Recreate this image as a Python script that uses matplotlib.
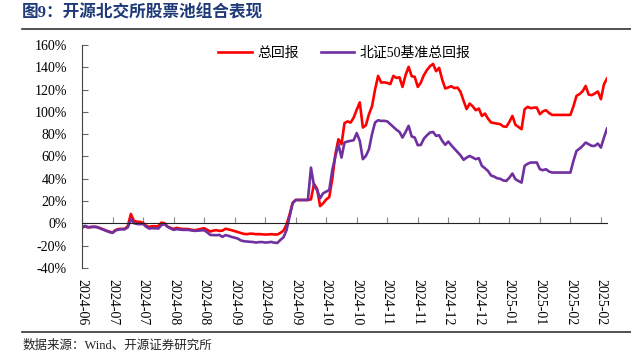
import matplotlib
matplotlib.use('Agg')
import matplotlib.pyplot as plt
from matplotlib.lines import Line2D

# daily returns (%) of the portfolio and the benchmark, one value per trading day
total_ret = [
    -3.4, -2.8, -3.6, -3.2, -3.0, -3.3, -4.4, -5.4, -6.5, -7.5,
    -8.2, -6.0, -5.0, -5.0, -4.9, -2.5, 8.5, 2.2, 1.5, 1.3,
    0.5, -2.0, -3.2, -2.5, -2.6, -2.5, 0.7, 0.2, -2.8, -4.0,
    -5.0, -4.0, -4.6, -5.0, -5.0, -5.2, -5.8, -6.1, -5.5, -4.8,
    -4.3, -5.8, -7.3, -6.5, -6.1, -6.7, -6.5, -4.8, -5.4, -6.1,
    -6.9, -7.6, -8.6, -9.4, -9.7, -9.2, -9.3, -9.7, -9.6, -9.8,
    -10.0, -9.9, -9.7, -9.9, -10.0, -8.5, -6.5, -1.0, 8.0, 18.5,
    21.0, 21.0, 21.0, 21.0, 21.0, 21.5, 35.5, 31.0, 15.5, 18.0,
    21.5, 23.5, 40.0, 62.0, 75.5, 71.0, 90.0, 91.5, 90.4, 94.9,
    102.0, 108.5, 86.0, 88.0, 97.9, 105.0, 120.0, 132.3, 126.3, 126.5,
    126.0, 124.9, 132.3, 130.5, 131.0, 122.4, 133.0, 140.4, 132.0, 131.4,
    122.4, 126.3, 133.0, 137.5, 141.0, 143.0, 136.5, 139.5, 129.0, 121.0,
    122.0, 123.0, 121.3, 121.8, 118.0, 110.0, 102.5, 107.5, 105.0, 101.5,
    103.0, 96.4, 98.5, 94.0, 90.5, 90.0, 89.5, 89.0, 87.0, 86.6,
    91.0, 96.4, 88.4, 86.5, 84.5, 102.4, 104.5, 103.3, 103.8, 103.9,
    97.9, 100.5, 101.5, 99.0, 97.3, 97.3, 97.3, 97.3, 97.3, 97.3,
    97.3, 105.0, 114.4, 116.0, 118.5, 123.3, 115.5, 115.0, 116.5, 118.3,
    111.4, 124.8, 130.0,
]
bench_ret = [
    -3.8, -2.2, -3.4, -3.3, -3.1, -3.5, -4.6, -5.6, -6.7, -7.8,
    -8.5, -6.3, -5.5, -5.2, -5.3, -3.5, 3.8, 0.2, -0.5, -0.7,
    -0.5, -3.0, -4.6, -4.3, -4.4, -4.6, -1.5, -0.7, -3.0, -4.5,
    -5.8, -5.2, -5.5, -5.8, -5.8, -5.9, -6.4, -6.7, -6.5, -6.3,
    -6.1, -8.0, -10.3, -10.5, -10.6, -10.3, -12.1, -10.5, -11.2, -12.1,
    -12.8, -13.6, -15.2, -16.0, -16.3, -16.5, -16.7, -17.2, -16.8, -16.7,
    -17.2, -17.0, -16.6, -17.3, -17.5, -14.8, -12.5, -6.0, 6.0, 18.0,
    21.0, 21.0, 21.0, 21.0, 21.0, 50.0, 33.6, 30.0, 22.5, 27.0,
    28.5, 30.0, 48.0, 60.0, 71.0, 59.0, 72.5, 73.5, 74.0, 74.6,
    81.0, 74.0, 57.6, 60.5, 66.5, 80.0, 90.5, 92.5, 91.9, 92.0,
    91.5, 89.0, 86.6, 84.0, 82.0, 77.0, 82.0, 87.5, 78.0, 77.0,
    70.1, 70.4, 76.0, 79.0, 81.5, 82.0, 78.5, 79.0, 74.0, 70.5,
    73.4, 70.0, 67.0, 64.0, 61.0, 57.0, 59.0, 60.5, 59.0, 57.6,
    58.5, 51.6, 49.5, 47.0, 43.0, 42.0, 40.5, 40.0, 38.5, 38.1,
    41.0, 44.7, 39.6, 38.0, 36.6, 51.6, 53.5, 54.6, 54.6, 54.6,
    48.6, 47.7, 48.6, 46.5, 45.6, 45.6, 45.6, 45.6, 45.6, 45.6,
    45.6, 56.1, 65.0, 67.0, 69.5, 72.5, 71.0, 69.5, 69.5, 71.6,
    68.0, 77.0, 85.0,
]
tick_labels = ['2024-06', '2024-07', '2024-07', '2024-08', '2024-08', '2024-09',
               '2024-09', '2024-09', '2024-10', '2024-10', '2024-11', '2024-11',
               '2024-12', '2024-12', '2025-01', '2025-01', '2025-02', '2025-02']
y_ticks = [-40, -20, 0, 20, 40, 60, 80, 100, 120, 140, 160]

cjk = ['Liberation Serif', 'Noto Sans CJK SC', 'DejaVu Sans']
plt.rcParams['font.family'] = cjk

days = list(range(len(total_ret)))

fig = plt.figure(figsize=(6.31, 3.62), dpi=100)
ax = fig.add_axes([0.130, 0.2597, 0.832, 0.616])

ax.plot(days, total_ret, color='#FF0000', lw=1.9, label='总回报')
ax.plot(days, bench_ret, color='#7030A0', lw=1.9, label='北证50基准总回报')

# move the x axis onto the zero line first, this rebuilds the ticks
ax.spines['top'].set_visible(False)
ax.spines['right'].set_visible(False)
ax.spines['bottom'].set_position(('data', 0))
ax.spines['bottom'].set_color('#222222')
ax.spines['left'].set_color('#444444')

ax.set_xlim(0, 172)
ax.set_ylim(-40, 160)
ax.set_yticks(y_ticks)
ax.set_yticklabels([f'{v}%' for v in y_ticks])
ax.set_xticks(days[::10])
ax.set_xticklabels(tick_labels, rotation=-90, va='top', ha='center')

ax.tick_params(axis='x', direction='in', length=4, color='#888888',
               pad=40, labelsize=10, labelrotation=-90)
ax.tick_params(axis='y', direction='in', length=4, color='#666666',
               pad=11, labelsize=10)

ax.legend(loc='center', bbox_to_anchor=(0.5, 0.962), ncol=2, frameon=False,
          fontsize=10, handlelength=2.4, columnspacing=1.6, handletextpad=0.4)

fig.text(0.035, 0.962, '图9：开源北交所股票池组合表现', fontsize=12, fontweight='bold',
         color='#1F3A78', va='center', ha='left')
fig.add_artist(Line2D([0.035, 1.0], [0.92, 0.92], color='#333333', lw=1.2))
fig.add_artist(Line2D([0.035, 1.0], [0.083, 0.083], color='#333333', lw=1.2))
fig.text(0.035, 0.044, '数据来源：Wind、开源证券研究所', fontsize=9,
         color='#222222', va='center', ha='left')

fig.savefig('out.png', dpi=100)
